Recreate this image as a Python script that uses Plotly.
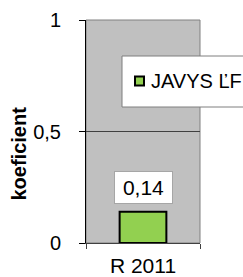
import plotly.graph_objects as go

categories = ["R 2011"]
series_name = "JAVYS ĽF"
values = [0.14]
value_labels = ["0,14"]
y_tick_vals = [0, 0.5, 1]
y_tick_text = ["0", "0,5", "1"]
y_title = "koeficient"

FONT = "Liberation Sans, Arial, sans-serif"
W, H = 243, 277
L, R, T, B = 86, 43, 20, 34
PW, PH = W - L - R, H - T - B

def px_x(x):
    return (x - L) / PW

def px_y(y):
    return (H - B - y) / PH

fig = go.Figure()
fig.add_trace(go.Bar(
    x=categories, y=values, name=series_name, width=0.41,
    marker=dict(color="#92D050", line=dict(color="black", width=2)),
    showlegend=False,
))

for c, v, t in zip(categories, values, value_labels):
    fig.add_annotation(x=c, y=v, text=t, showarrow=False, yanchor="bottom", yshift=8,
                       bgcolor="white", width=51, height=25, borderpad=3,
                       bordercolor="#A6A6A6", borderwidth=1,
                       font=dict(family=FONT, size=21, color="black"))

# plot area border (top/right)
fig.add_shape(type="rect", xref="paper", yref="paper", x0=0, x1=1, y0=0, y1=1,
              line=dict(color="#808080", width=1), layer="below")

# legend box
fig.add_shape(type="rect", xref="paper", yref="paper",
              x0=px_x(122), x1=px_x(260), y0=px_y(107), y1=px_y(56),
              fillcolor="white", line=dict(color="#7F7F7F", width=1), layer="above")
fig.add_shape(type="rect", xref="paper", yref="paper",
              x0=px_x(135), x1=px_x(144), y0=px_y(85.5), y1=px_y(76.5),
              fillcolor="#92D050", line=dict(color="black", width=2), layer="above")
fig.add_annotation(xref="paper", yref="paper", x=px_x(149), y=px_y(81), text=series_name,
                   showarrow=False, xanchor="left", yanchor="middle",
                   font=dict(family=FONT, size=20, color="black"))

# y title
fig.add_annotation(xref="paper", yref="paper", x=px_x(18.5), y=px_y(154), text="<b>" + y_title + "</b>",
                   textangle=-90, showarrow=False, xanchor="center", yanchor="middle",
                   font=dict(family=FONT, size=20, color="black"))

fig.update_layout(
    width=W, height=H,
    margin=dict(l=L, r=R, t=T, b=B, pad=0, autoexpand=False),
    paper_bgcolor="white", plot_bgcolor="#C0C0C0",
    font=dict(family=FONT, size=20, color="black"),
    bargap=0.6,
)
fig.update_xaxes(showline=True, linecolor="#404040", linewidth=1,
                 ticks="outside", tickson="boundaries", ticklen=5, tickcolor="#404040",
                 ticklabelstandoff=4, automargin=False,
                 tickfont=dict(size=21), showgrid=False, fixedrange=True)
fig.update_yaxes(range=[0, 1], tickvals=y_tick_vals, ticktext=y_tick_text,
                 showline=True, linecolor="black", linewidth=1,
                 ticks="outside", ticklen=6, tickcolor="black",
                 ticklabelstandoff=14, automargin=False,
                 showgrid=True, gridcolor="#404040", gridwidth=1, zeroline=False,
                 tickfont=dict(size=20), fixedrange=True)

fig.write_html("out.html", config={"displayModeBar": False},
               post_script="document.body.style.margin='0';document.body.style.overflow='hidden';")
